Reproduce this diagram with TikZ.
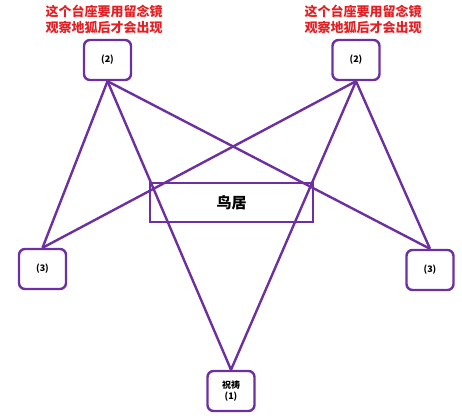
\documentclass[tikz,border=0pt]{standalone}
\usepackage{fontspec}
\newfontfamily\cjk{Noto Sans CJK SC}
\definecolor{altarpurple}{RGB}{108,48,160}
\definecolor{noteRed}{RGB}{228,32,36}
\begin{document}
\begin{tikzpicture}[x=1pt,y=-1pt,
    link/.style={altarpurple,line width=2.4pt},
    altar/.style={draw=altarpurple,line width=2.4pt,rounded corners=6pt,fill=white,minimum width=47pt,minimum height=40pt,inner sep=0pt,font=\cjk\bfseries\fontsize{9}{11}\selectfont,align=center},
    note/.style={noteRed,font=\cjk\bfseries\fontsize{13}{16}\selectfont,align=center}]
  \useasboundingbox (0,0) rectangle (462,415);
  % torii in the middle
  \node[draw=altarpurple,line width=2.4pt,minimum width=163pt,minimum height=39pt,inner sep=0pt,font=\cjk\bfseries\fontsize{15}{18}\selectfont] (torii) at (231.5,202.5) {鸟居};
  \begin{scope}[every node/.style={altar}]
    \node (tlbase) at (107.5,60) {(2)};
    \node (trbase) at (356,60) {(2)};
    \node (lbase) at (42.5,269) {(3)};
    \node (rbase) at (430,270) {(3)};
    \node (pray) at (231,391) {祝祷\\(1)};
  \end{scope}
  \node[note] (tlnote) at (104,19) {这个台座要用留念镜\\观察地狐后才会出现};
  \node[note] (trnote) at (363,19) {这个台座要用留念镜\\观察地狐后才会出现};
  % connectors
  \draw[link] (tlbase.south) -- (lbase.north);
  \draw[link] (tlbase.south) -- (rbase.north);
  \draw[link] (tlbase.south) -- (pray.north);
  \draw[link] (trbase.south) -- (rbase.north);
  \draw[link] (trbase.south) -- (lbase.north);
  \draw[link] (trbase.south) -- (pray.north);
\end{tikzpicture}
\end{document}
